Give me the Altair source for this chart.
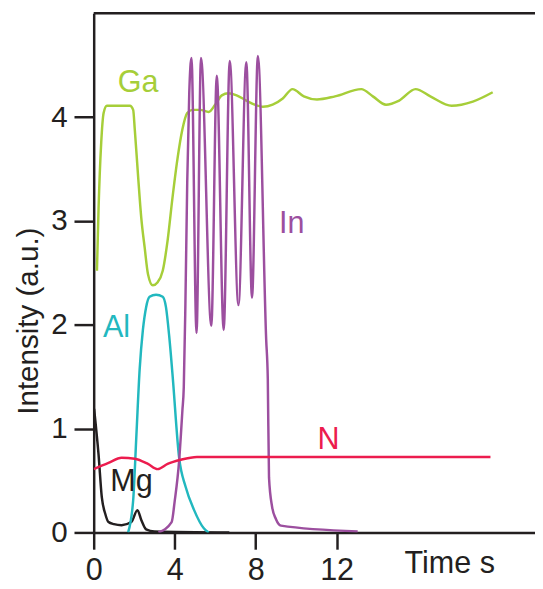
import altair as alt
import pandas as pd

FONT = "Liberation Sans"
INK = "#231f20"

# axes
x_ticks = [0, 4, 8, 12]
y_ticks = [0, 1, 2, 3, 4]
x_max = 21.8
y_max = 5.0

# series (time s, intensity a.u.)
ga_x = [0.16, 0.24, 0.37, 0.49, 0.65, 1.79, 1.95, 2.03, 2.19, 2.35, 2.52, 2.68, 2.92, 3.16, 3.41,
        3.65, 3.89, 4.14, 4.38, 4.62, 4.87, 5.27, 5.68, 6.0, 6.33, 6.65, 7.06, 7.54, 7.95, 8.36,
        8.84, 9.34, 9.82, 10.38, 11.03, 11.92, 13.22, 13.79, 14.44, 15.09, 15.90, 16.63, 17.68,
        18.73, 19.71]
ga_y = [2.52, 3.12, 3.75, 4.04, 4.11, 4.11, 4.07, 3.88, 3.44, 3.03, 2.74, 2.49, 2.38, 2.41, 2.52,
        2.81, 3.22, 3.60, 3.88, 4.04, 4.07, 4.07, 4.05, 4.12, 4.21, 4.23, 4.21, 4.16, 4.12, 4.10,
        4.12, 4.18, 4.27, 4.20, 4.17, 4.20, 4.27, 4.20, 4.12, 4.16, 4.27, 4.20, 4.11,
        4.15, 4.24]

mg_x = [0.02, 0.24, 0.40, 0.57, 0.73, 1.0, 1.38, 1.86, 2.16, 2.35, 2.59, 3.0, 6.7]
mg_y = [1.19, 0.75, 0.34, 0.18, 0.10, 0.08, 0.07, 0.10, 0.215, 0.12, 0.03, 0.01, 0.0]

al_x = [1.70, 1.95, 2.11, 2.27, 2.43, 2.59, 2.76, 3.08, 3.41, 3.57, 3.73, 3.89, 4.22, 4.54, 4.95,
        5.44, 5.68]
al_y = [0.0, 0.31, 0.94, 1.57, 1.95, 2.17, 2.27, 2.29, 2.27, 2.17, 1.89, 1.53, 0.72, 0.44, 0.22,
        0.04, 0.0]

in_x = [3.2, 3.85, 4.0, 4.22, 4.38, 4.45, 4.53, 4.62, 4.72, 4.83, 5.08, 5.30, 5.81, 6.08, 6.42,
        6.72, 7.15, 7.54, 7.82, 8.11, 8.52, 8.60, 8.66, 8.81, 9.0, 9.25, 13.04]
in_y = [0.0, 0.10, 0.30, 0.69, 1.17, 1.40, 2.20, 3.37, 4.23, 4.57, 1.92, 4.57, 1.99, 4.40, 1.95,
        4.54, 2.19, 4.53, 2.26, 4.59, 1.86, 1.48, 0.53, 0.25, 0.13, 0.066, 0.01]

n_x = [0.0, 0.73, 1.38, 2.03, 2.68, 3.16, 3.65, 4.3, 5.1, 19.6]
n_y = [0.61, 0.67, 0.72, 0.71, 0.66, 0.61, 0.66, 0.70, 0.727, 0.727]

series_names = ["Ga", "Mg", "Al", "In", "N"]
series_colors = ["#a6ce39", "#231f20", "#22b8bf", "#9c4f9f", "#ec1c4e"]
series_x = [ga_x, mg_x, al_x, in_x, n_x]
series_y = [ga_y, mg_y, al_y, in_y, n_y]

# in-plot labels
label_text = ["Ga", "In", "Al", "N", "Mg"]
label_x = [2.19, 9.78, 1.13, 11.6, 1.87]
label_y = [4.33, 2.97, 1.97, 0.89, 0.48]
label_color = ["#a6ce39", "#9c4f9f", "#22b8bf", "#ec1c4e", "#231f20"]

W, H = 448, 527

x_scale = alt.Scale(domain=[0, x_max], nice=False, zero=False)
y_scale = alt.Scale(domain=[0, y_max], nice=False, zero=False)

x_axis = alt.Axis(
    values=x_ticks, grid=False, domainColor=INK, domainWidth=2.5, tickColor=INK, tickWidth=2.5,
    tickSize=17, labelFont=FONT, labelFontSize=31, labelColor=INK, labelPadding=7,
    labelFlush=False, title="Time s", titleFont=FONT, titleFontSize=31, titleFontWeight="normal",
    titleColor=INK, titleAlign="left", titleBaseline="alphabetic", titleX=315, titleY=41,
)
y_axis = alt.Axis(
    values=y_ticks, grid=False, domainColor=INK, domainWidth=2.5, tickColor=INK, tickWidth=2.5,
    tickSize=20, labelFont=FONT, labelFontSize=30, labelColor=INK, labelPadding=7,
    labelFlush=False, title="Intensity (a.u.)", titleFont=FONT, titleFontSize=30,
    titleFontWeight="normal", titleColor=INK, titleAngle=270, titleAlign="center",
    titleBaseline="middle", titleX=-66, titleY=312,
)

layers = []
for name, color, xs, ys in zip(series_names, series_colors, series_x, series_y):
    df = pd.DataFrame({"t": xs, "v": ys})
    layers.append(
        alt.Chart(df).mark_line(color=color, strokeWidth=2.5, interpolate="monotone", clip=True).encode(
            x=alt.X("t:Q", scale=x_scale, axis=x_axis),
            y=alt.Y("v:Q", scale=y_scale, axis=y_axis),
        )
    )

labels_df = pd.DataFrame({"text": label_text, "t": label_x, "v": label_y, "c": label_color})
labels = alt.Chart(labels_df).mark_text(font=FONT, fontSize=31, align="center", baseline="middle").encode(
    x=alt.X("t:Q", scale=x_scale, axis=x_axis),
    y=alt.Y("v:Q", scale=y_scale, axis=y_axis),
    text="text:N",
    color=alt.Color("c:N", scale=None, legend=None),
)

top_border = alt.Chart(pd.DataFrame({"a": [0]})).mark_rule(color=INK, strokeWidth=2.5).encode(
    x=alt.value(0), x2=alt.value(W), y=alt.value(0)
)

chart = alt.layer(*layers, labels, top_border).properties(
    width=W, height=H, autosize="none",
    padding={"left": 87, "top": 1, "right": 0, "bottom": 53},
).configure_view(stroke=None).configure(background="white")

chart.save("out.html", embed_options={"renderer": "svg", "actions": False})
